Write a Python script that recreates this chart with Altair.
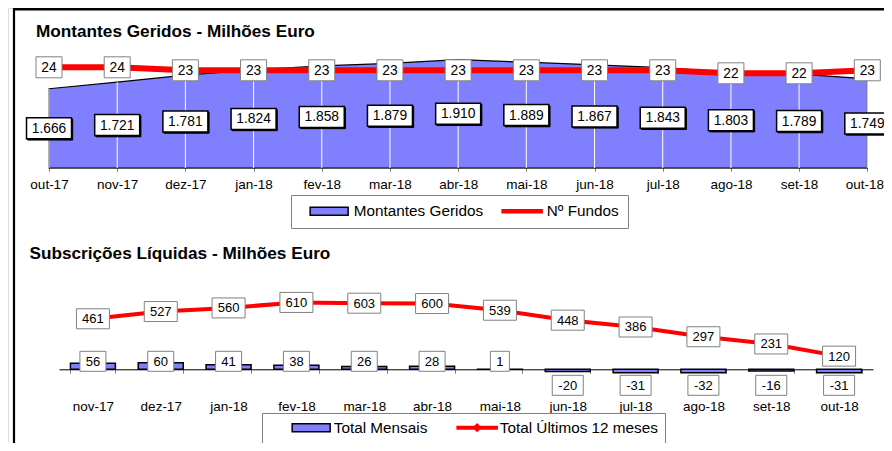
import altair as alt
import pandas as pd

# ---------------- data ----------------
months_top = ["out-17", "nov-17", "dez-17", "jan-18", "fev-18", "mar-18", "abr-18",
              "mai-18", "jun-18", "jul-18", "ago-18", "set-18", "out-18"]
montantes = [1666, 1721, 1781, 1824, 1858, 1879, 1910, 1889, 1867, 1843, 1803, 1789, 1749]
n_fundos = [24, 24, 23, 23, 23, 23, 23, 23, 23, 23, 22, 22, 23]

months_bot = ["nov-17", "dez-17", "jan-18", "fev-18", "mar-18", "abr-18",
              "mai-18", "jun-18", "jul-18", "ago-18", "set-18", "out-18"]
mensais = [56, 60, 41, 38, 26, 28, 1, -20, -31, -32, -16, -31]
ultimos12 = [461, 527, 560, 610, 603, 600, 539, 448, 386, 297, 231, 120]

title_top = "Montantes Geridos - Milhões Euro"
title_bot = "Subscrições Líquidas - Milhões Euro"
legend_top = ["Montantes Geridos", "Nº Fundos"]
legend_bot = ["Total Mensais", "Total Últimos 12 meses"]

# ---------------- style ----------------
FONT = "Liberation Sans"
BLUE = "#8080ff"
RED = "#ff0000"
GREY = "#808080"
W, H = 876, 435


def box(w, h):
    return f"M{-w/2:.3f},{-h/2:.3f}H{w/2:.3f}V{h/2:.3f}H{-w/2:.3f}Z"


top = pd.DataFrame({"m": months_top, "v": montantes, "f": n_fundos})
top["lab"] = [f"{v:,}".replace(",", ".") for v in montantes]
bot = pd.DataFrame({"m": months_bot, "b": mensais, "u": ultimos12})
bot["lab"] = [str(v) for v in mensais]
one = pd.DataFrame({"k": [0]})

# ---------------- scales ----------------
def x_top(axis=None):
    return alt.X("m:N", scale=alt.Scale(type="point", domain=months_top,
                                        range=[41, 859.3], padding=0), axis=axis)


def x_bot(axis=None):
    return alt.X("m:N", scale=alt.Scale(type="band", domain=months_bot, range=[51, 865],
                                        paddingInner=0.337, paddingOuter=0.1685), axis=axis)


def y_area(field):
    return alt.Y(field, type="quantitative",
                 scale=alt.Scale(domain=[1000, 2000], range=[160, 41], zero=False, nice=False),
                 axis=None)


def y_fund(field):
    return alt.Y(field, type="quantitative",
                 scale=alt.Scale(domain=[20, 25], range=[71.3, 56.3], zero=False, nice=False),
                 axis=None)


def y_bot(field):
    return alt.Y(field, type="quantitative",
                 scale=alt.Scale(domain=[-100, 700], range=[372.26, 284.58], zero=False, nice=False),
                 axis=None)


axis_common = dict(title=None, labelAngle=0, labelFont=FONT, labelFontSize=13.5,
                   labelColor="black", tickSize=4, tickColor=GREY, domainColor="black",
                   domainWidth=1, grid=False)
axis_top = alt.Axis(orient="bottom", offset=159.3 - H, labelPadding=6.5,
                    labelOffset=alt.condition("datum.value == 'out-18'", alt.value(-3), alt.value(0)),
                    **axis_common)
axis_bot = alt.Axis(orient="bottom", offset=361.3 - H, labelPadding=25.7, tickBand="extent",
                    **axis_common)

layers = []

# ---------------- frame & titles ----------------
layers.append(alt.Chart(one).mark_rule(color="black", strokeWidth=2.4).encode(
    x=alt.value(5), x2=alt.value(W), y=alt.value(1.2)))
layers.append(alt.Chart(one).mark_rule(color="black", strokeWidth=2.2).encode(
    x=alt.value(6), y=alt.value(0), y2=alt.value(H)))
layers.append(alt.Chart(one).mark_text(text=title_top, align="left", baseline="alphabetic",
                                       font=FONT, fontSize=17.2, fontWeight="bold", color="black")
              .encode(x=alt.value(28), y=alt.value(29)))
layers.append(alt.Chart(one).mark_text(text=title_bot, align="left", baseline="alphabetic",
                                       font=FONT, fontSize=17.2, fontWeight="bold", color="black")
              .encode(x=alt.value(21.5), y=alt.value(250.5)))

# ---------------- top panel ----------------
layers.append(alt.Chart(top).mark_area(fill=BLUE, stroke="black", strokeWidth=1.2, opacity=1)
              .encode(x=x_top(axis_top), y=y_area("v"), y2=alt.datum(1000)))
layers.append(alt.Chart(top).mark_rule(color="white", strokeWidth=1)
              .encode(x=x_top(), y=y_area("v"), y2=alt.datum(1000)))
layers.append(alt.Chart(top).mark_line(color=RED, strokeWidth=6)
              .encode(x=x_top(), y=y_fund("f")))

area_lab = alt.Chart(top).transform_calculate(mid="(datum.v + 1000) / 2")
layers.append(area_lab.mark_point(shape=box(45, 21), size=4, filled=True, fill="black",
                                  stroke="black", strokeWidth=1, opacity=1,
                                  xOffset=1.2, yOffset=1.2)
              .encode(x=x_top(), y=y_area("mid")))
layers.append(area_lab.mark_point(shape=box(45, 21), size=4, filled=True, fill="white",
                                  stroke="black", strokeWidth=1.5, opacity=1)
              .encode(x=x_top(), y=y_area("mid")))
layers.append(area_lab.mark_text(font=FONT, fontSize=13.8, color="black", dy=0.5)
              .encode(x=x_top(), y=y_area("mid"), text="lab:N"))

layers.append(alt.Chart(top).mark_point(shape=box(26, 21), size=4, filled=True, fill="white",
                                        stroke=GREY, strokeWidth=1, opacity=1)
              .encode(x=x_top(), y=y_fund("f")))
layers.append(alt.Chart(top).mark_text(font=FONT, fontSize=13.8, color="black", dy=0.5)
              .encode(x=x_top(), y=y_fund("f"), text="f:Q"))

# ---------------- bottom panel ----------------
layers.append(alt.Chart(bot).mark_bar(fill=BLUE, stroke="black", strokeWidth=1.5, opacity=1)
              .encode(x=x_bot(axis_bot), y=y_bot("b"), y2=alt.datum(0)))
layers.append(alt.Chart(bot).mark_line(color=RED, strokeWidth=4)
              .encode(x=x_bot(), y=y_bot("u")))
layers.append(alt.Chart(bot).mark_point(shape=box(33, 20), size=4, filled=True, fill="white",
                                        stroke=GREY, strokeWidth=1, opacity=1)
              .encode(x=x_bot(), y=y_bot("u")))
layers.append(alt.Chart(bot).mark_text(font=FONT, fontSize=13, color="black", dy=0.5)
              .encode(x=x_bot(), y=y_bot("u"), text="u:Q"))

bar_lab = alt.Chart(bot).transform_calculate(z="0")
for cond, off in [("datum.b >= 0", -8), ("datum.b < 0", 16)]:
    for n, w in [(1, 19), (2, 26), (3, 31)]:
        layers.append(bar_lab.transform_filter(f"{cond} && length(datum.lab) == {n}")
                      .mark_point(shape=box(w, 20), size=4, filled=True, fill="white",
                                  stroke=GREY, strokeWidth=1, opacity=1, yOffset=off)
                      .encode(x=x_bot(), y=y_bot("z")))
    layers.append(bar_lab.transform_filter(cond)
                  .mark_text(font=FONT, fontSize=13, color="black", yOffset=off + 0.5)
                  .encode(x=x_bot(), y=y_bot("z"), text="lab:N"))

# ---------------- legends ----------------
# symbol size 64 -> path unit = 4 px
P_RECT = box(38 / 4, 8 / 4)
P_LINE = box(40 / 4, 3 / 4)
P_LINE_DOT = box(40 / 4, 2.5 / 4) + " M-0.9,0L0,-0.9L0.9,0L0,0.9Z"


def legend_layer(names, paths, legend):
    d = pd.DataFrame({"s": names})
    return (alt.Chart(d).transform_filter("false")
            .mark_point(filled=True, opacity=1)
            .encode(fill=alt.Fill("s:N", scale=alt.Scale(domain=names, range=[BLUE, RED]), legend=legend),
                    stroke=alt.Stroke("s:N", scale=alt.Scale(domain=names, range=["black", RED]), legend=legend),
                    shape=alt.Shape("s:N", scale=alt.Scale(domain=names, range=paths), legend=legend)))


leg_common = dict(title=None, orient="none", direction="horizontal", symbolSize=64,
                  symbolStrokeWidth=1.5, labelFont=FONT, labelColor="black", labelFontSize=15.3,
                  strokeColor=GREY, fillColor="white")
L_top = alt.Legend(legendX=283, legendY=187, padding=8.5, columnPadding=9,
                   symbolOffset=22, labelOffset=17, **leg_common)
L_bot = alt.Legend(legendX=254, legendY=405, padding=7, columnPadding=7,
                   symbolOffset=34.5, labelOffset=15, **leg_common)

layers.append(legend_layer(legend_top, [P_RECT, P_LINE], L_top))
layers.append(legend_layer(legend_bot, [P_RECT, P_LINE_DOT], L_bot))

chart = (alt.layer(*layers)
         .resolve_scale(x="independent", y="independent", fill="independent",
                        stroke="independent", shape="independent")
         .resolve_axis(x="independent", y="independent")
         .resolve_legend(fill="independent", stroke="independent", shape="independent")
         .properties(width=W, height=H, padding=0,
                     autosize=alt.AutoSizeParams(type="none"))
         .configure_view(stroke=None)
         .configure(font=FONT))

chart.save("out.html", embed_options={"renderer": "svg", "actions": False})
